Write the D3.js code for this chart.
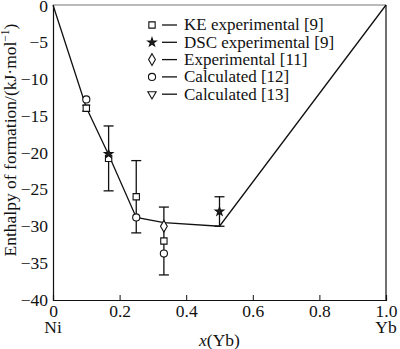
<!DOCTYPE html>
<html>
<head>
<meta charset="utf-8">
<script src="https://cdn.jsdelivr.net/npm/d3@7"></script>
<style>
  body { margin: 0; background: #fff; }
  text { font-family: "Liberation Serif", "Times New Roman", serif; fill: #111; }
</style>
</head>
<body>
<div id="chart"></div>
<script>
// Calculated enthalpy line
const lineX = [0, 0.1, 0.167, 0.25, 0.333, 0.5, 1];
const lineY = [0, -13.9, -20.3, -28.8, -29.5, -30, 0];

// KE experimental [9]
const keX = [0.1, 0.167, 0.25, 0.333];
const keY = [-14, -20.8, -26, -32];
const keErr = [0.4, 4.4, 4.9, 4.6];

// DSC experimental [9]
const dscX = [0.167, 0.5];
const dscY = [-20.2, -28];
const dscErr = [0, 2];

// Experimental [11]
const expX = [0.333];
const expY = [-30];

// Calculated [12]
const calcX = [0.1, 0.25, 0.333];
const calcY = [-12.8, -28.8, -33.7];

const xTicks = [0, 0.2, 0.4, 0.6, 0.8, 1.0];
const yTicks = [0, -5, -10, -15, -20, -25, -30, -35, -40];
const legendLabels = ["KE experimental [9]", "DSC experimental [9]", "Experimental [11]", "Calculated [12]", "Calculated [13]"];
const legendSymbols = ["square", "star", "diamond", "circle", "triangle"];

const width = 400, height = 349;
const margin = { top: 5, right: 14, bottom: 49, left: 53 };
const fs = "17.5px";

const svg = d3.select("#chart").append("svg")
    .attr("width", width)
    .attr("height", height);

const x = d3.scaleLinear().domain([0, 1]).range([margin.left, width - margin.right]);
const y = d3.scaleLinear().domain([-40, 0]).range([height - margin.bottom, margin.top]);

// frame
svg.append("line").attr("x1", x(0)).attr("x2", x(1)).attr("y1", y(0)).attr("y2", y(0))
    .attr("stroke", "#777").attr("stroke-width", 1.2);
svg.append("line").attr("x1", x(1)).attr("x2", x(1)).attr("y1", y(0)).attr("y2", y(-40))
    .attr("stroke", "#111").attr("stroke-width", 1.2);

// x axis, ticks pointing inward
const xAxis = svg.append("g")
    .attr("transform", `translate(0,${y(-40)})`)
    .call(d3.axisBottom(x).tickValues(xTicks).tickSize(-5)
        .tickFormat(d => d === 0 ? "0" : d3.format(".1f")(d)));
xAxis.select(".domain").attr("stroke", "#111").attr("stroke-width", 1.2);
xAxis.selectAll(".tick line").attr("stroke", "#111")
    .filter(d => d === 0 || d === 1).remove();
xAxis.selectAll(".tick text").style("font-size", fs).attr("y", 17).attr("dy", 0);

// y axis, no tick marks
const yAxis = svg.append("g")
    .attr("transform", `translate(${x(0)},0)`)
    .call(d3.axisLeft(y).tickValues(yTicks).tickSize(0).tickPadding(5)
        .tickFormat(d => d === 0 ? "0" : "\u2212" + Math.abs(d)));
yAxis.select(".domain").attr("stroke", "#111").attr("stroke-width", 1.2);
yAxis.selectAll(".tick text").style("font-size", fs)
    .filter(d => d === 0).attr("dy", "0.38em");

// element labels under the axis ends
svg.append("text").attr("x", x(0)).attr("y", 333).attr("text-anchor", "middle")
    .style("font-size", fs).text("Ni");
svg.append("text").attr("x", x(1)).attr("y", 333).attr("text-anchor", "middle")
    .style("font-size", fs).text("Yb");

// axis titles
const xt = svg.append("text").attr("x", x(0.5)).attr("y", 346).attr("text-anchor", "middle")
    .style("font-size", fs);
xt.append("tspan").style("font-style", "italic").text("x");
xt.append("tspan").text("(Yb)");

const yt = svg.append("text")
    .attr("transform", `translate(16,${140}) rotate(-90)`)
    .attr("text-anchor", "middle")
    .style("font-size", fs);
yt.append("tspan").text("Enthalpy of formation/(kJ\u00b7mol");
yt.append("tspan").attr("dy", -7).style("font-size", "11.5px").text("\u22121");
yt.append("tspan").attr("dy", 7).text(")");

// line
svg.append("path")
    .datum(d3.zip(lineX, lineY))
    .attr("fill", "none").attr("stroke", "#111").attr("stroke-width", 1.3)
    .attr("d", d3.line().x(d => x(d[0])).y(d => y(d[1])));

// error bars
function errorBars(xs, ys, errs, cap) {
    const g = svg.append("g").attr("stroke", "#111").attr("stroke-width", 1.3);
    xs.forEach((xv, i) => {
        const e = errs[i];
        if (!e) return;
        const cx = x(xv);
        const w = e < 1 ? 4 : cap;
        g.append("line").attr("x1", cx).attr("x2", cx).attr("y1", y(ys[i] + e)).attr("y2", y(ys[i] - e));
        g.append("line").attr("x1", cx - w).attr("x2", cx + w).attr("y1", y(ys[i] + e)).attr("y2", y(ys[i] + e));
        g.append("line").attr("x1", cx - w).attr("x2", cx + w).attr("y1", y(ys[i] - e)).attr("y2", y(ys[i] - e));
    });
}
errorBars(keX, keY, keErr, 5);
errorBars(dscX, dscY, dscErr, 5);

const symbolTypes = {
    square: { type: d3.symbolSquare, size: 40, fill: "#fff" },
    star: { type: d3.symbolStar, size: 22, fill: "#222" },
    diamond: { type: d3.symbolDiamond, size: 40, fill: "#fff" },
    circle: { type: d3.symbolCircle, size: 40, fill: "#fff" },
    triangle: { type: d3.symbolTriangle, size: 30, fill: "#fff" }
};

function drawMarker(g, kind, px, py) {
    const s = symbolTypes[kind];
    g.append("path")
        .attr("d", d3.symbol().type(s.type).size(s.size)())
        .attr("transform", `translate(${px},${py})${kind === "triangle" ? " rotate(180)" : ""}`)
        .attr("fill", s.fill).attr("stroke", "#111").attr("stroke-width", 1.1);
}

function series(xs, ys, kind) {
    const g = svg.append("g");
    xs.forEach((xv, i) => drawMarker(g, kind, x(xv), y(ys[i])));
}
series(keX, keY, "square");
series(expX, expY, "diamond");
series(calcX, calcY, "circle");
series(dscX, dscY, "star");

// legend
const legend = svg.append("g").attr("transform", "translate(152,25)");
legendLabels.forEach((lab, i) => {
    const row = legend.append("g").attr("transform", `translate(0,${i * 17.3})`);
    drawMarker(row, legendSymbols[i], 0, 0);
    row.append("line").attr("x1", 10).attr("x2", 25).attr("y1", 0).attr("y2", 0)
        .attr("stroke", "#111").attr("stroke-width", 1.3);
    row.append("text").attr("x", 32).attr("y", 0).attr("dy", "0.32em")
        .style("font-size", "17px").text(lab);
});
</script>
</body>
</html>
